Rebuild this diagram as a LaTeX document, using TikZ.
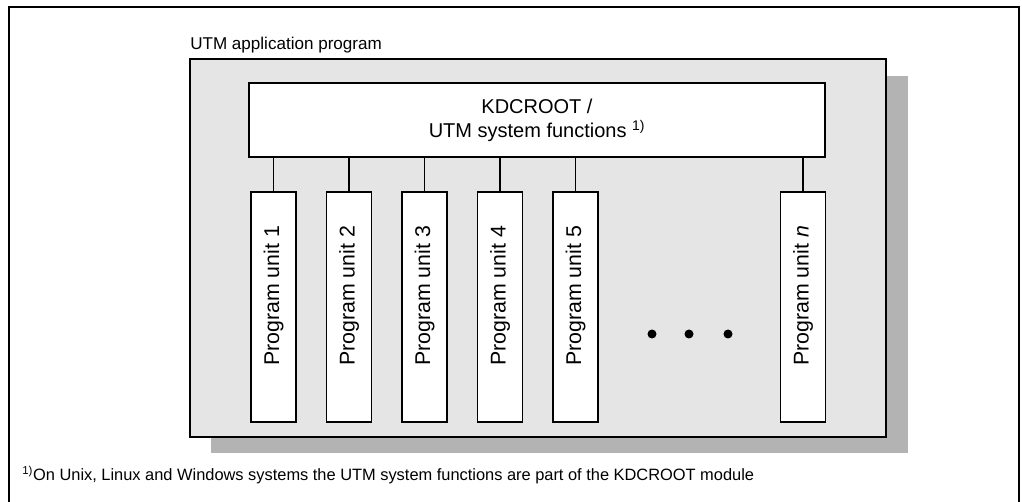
\documentclass[tikz,border=0pt]{standalone}
\usepackage{fontspec}
\setmainfont{Liberation Sans}
\usetikzlibrary{positioning}
\definecolor{appgray}{HTML}{E5E5E5}
\definecolor{shadowgray}{HTML}{B3B3B3}
\tikzset{
  unitbox/.style={draw, line width=0.9pt, fill=white, minimum width=33.75pt, minimum height=172.5pt, inner sep=0pt},
  kdcbox/.style={draw, line width=0.9pt, fill=white, minimum width=432pt, minimum height=55.5pt, align=center, font=\fontsize{15}{18}\selectfont},
  unitlabel/.style={yshift=8.25pt, rotate=90, font=\fontsize{16}{19}\selectfont}
}

\begin{document}
\begin{tikzpicture}[x=0.75pt,y=-0.75pt]
\useasboundingbox (0,0) rectangle (1022,502);
\draw[line width=1.2pt] (9,502) -- (9,7) -- (1019,7) -- (1019,502); %frame

\fill[shadowgray] (211,76) rectangle (908,453); %shadow
\draw[line width=1.2pt, fill=appgray] (190,59) rectangle (886,437); %application
\node[anchor=base west, inner sep=0pt, font=\fontsize{12.8}{15}\selectfont] (title) at (190,50) {UTM application program};

\node[kdcbox] (kdc) at (537,120) {KDCROOT /\\UTM system functions \textsuperscript{1)}};

\node[unitbox] (u1) at (273.5,307) {}; %units
\node[unitbox] (u2) at (349,307) {};
\node[unitbox] (u3) at (424.5,307) {};
\node[unitbox] (u4) at (500,307) {};
\node[unitbox] (u5) at (575.5,307) {};
\node[unitbox] (un) at (803,307) {};
\node[unitlabel] at (u1) {Program unit 1};
\node[unitlabel] at (u2) {Program unit 2};
\node[unitlabel] at (u3) {Program unit 3};
\node[unitlabel] at (u4) {Program unit 4};
\node[unitlabel] at (u5) {Program unit 5};
\node[unitlabel] at (un) {Program unit \textit{n}};

\foreach \u in {u1,u2,u3,u4,u5,un}
  \draw[line width=0.9pt] (\u.north) -- (\u.north |- kdc.south);

\foreach \x in {652,689,728}
  \fill (\x,334) circle (4.5); %dots

\node[anchor=base west, inner sep=0pt, font=\fontsize{12.3}{15}\selectfont] (note) at (22,480) {\textsuperscript{1)}On Unix, Linux and Windows systems the UTM system functions are part of the KDCROOT module};
\end{tikzpicture}
\end{document}
